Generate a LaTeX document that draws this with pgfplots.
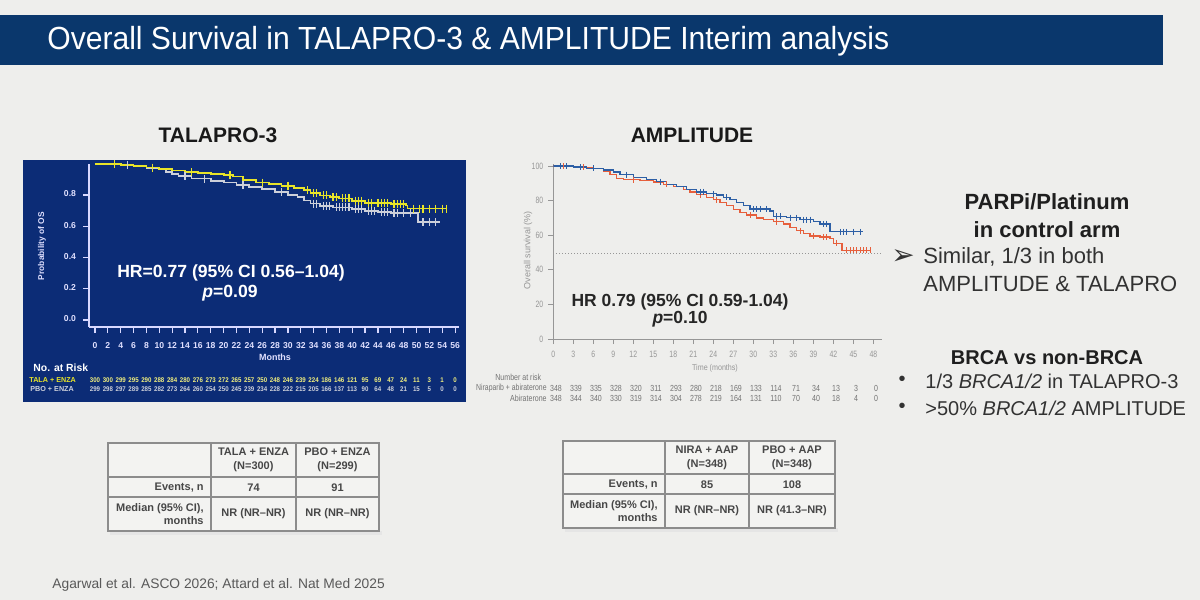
\documentclass[border=0pt]{standalone}
\usepackage{pgfplots}
\pgfplotsset{compat=1.18}
\usepackage{fontspec}
\setmainfont{Liberation Sans}
\newfontfamily\dejavu{DejaVu Sans}
\definecolor{bg}{RGB}{238,238,236}
\definecolor{titlebar}{RGB}{10,55,108}
\definecolor{panel}{RGB}{12,44,118}
\definecolor{talayel}{RGB}{232,228,40}
\definecolor{pbogray}{RGB}{205,208,218}
\definecolor{nirablue}{RGB}{45,95,165}
\definecolor{abired}{RGB}{230,95,60}
\definecolor{txt}{RGB}{50,50,50}
\definecolor{axgray}{RGB}{150,150,150}
\definecolor{tblline}{RGB}{140,140,140}
\definecolor{tblfill}{RGB}{243,243,241}
\begin{document}
\begin{tikzpicture}
\begin{scope}[x=0.5pt,y=-0.5pt]
\fill[bg] (0,0) rectangle (1200,600);
\useasboundingbox (0,0) rectangle (1200,600);
% title bar
\fill[titlebar] (0,15) rectangle (1163,65);
\node[anchor=west, text=white, font=\fontsize{16}{16}\selectfont, inner sep=0] at (47,41) {\scalebox{0.94}[1]{Overall Survival in TALAPRO-3 \& AMPLITUDE Interim analysis}};
% panel titles
\node[font=\fontsize{10.5}{12}\selectfont\bfseries, text=black!90] at (218,135) {TALAPRO-3};
\node[font=\fontsize{10.5}{12}\selectfont\bfseries, text=black!90] at (692,135) {AMPLITUDE};
% TALAPRO panel
\fill[panel] (23,160) rectangle (466,402);
\node[rotate=90, font=\fontsize{4.2}{5}\selectfont\bfseries, text=white!88!blue] at (42,246) {Probability of OS};
\node[font=\fontsize{4.5}{5}\selectfont\bfseries, text=white!88!blue] at (275,357) {Months};
\node[anchor=west, font=\fontsize{5.2}{6}\selectfont\bfseries, text=white, inner sep=0] at (33,368) {No. at Risk};
\node[anchor=west, font=\fontsize{3.6}{4}\selectfont\bfseries, text=talayel, inner sep=0] at (29,380) {TALA + ENZA};
\node[anchor=west, font=\fontsize{3.6}{4}\selectfont\bfseries, text=pbogray, inner sep=0] at (30,389) {PBO + ENZA};
\foreach \n [count=\i from 0] in {300,300,299,295,290,288,284,280,276,273,272,265,257,250,248,246,239,224,186,146,121,95,69,47,24,11,3,1,0}
  \node[font=\fontsize{3.4}{4}\selectfont\bfseries, text=talayel!60!white, inner sep=0] at ({95+12.857*\i},380) {\scalebox{0.9}[1]{\n}};
\foreach \n [count=\i from 0] in {299,298,297,289,285,282,273,264,260,254,250,245,239,234,228,222,215,205,166,137,113,90,64,48,21,15,5,0,0}
  \node[font=\fontsize{3.4}{4}\selectfont\bfseries, text=pbogray, inner sep=0] at ({95+12.857*\i},389) {\scalebox{0.9}[1]{\n}};
% AMPLITUDE labels
\node[rotate=90, font=\fontsize{4.5}{5}\selectfont, text=axgray] at (528,250) {Overall survival (\%)};
\node[font=\fontsize{4.2}{5}\selectfont, text=axgray] at (715,368) {\scalebox{0.85}[1]{Time (months)}};
\node[anchor=west, font=\fontsize{4.4}{5}\selectfont, text=black!55, inner sep=0] at (495,377) {\scalebox{0.8}[1]{Number at risk}};
\node[anchor=east, font=\fontsize{4.4}{5}\selectfont, text=black!55, inner sep=0] at (547,388) {\scalebox{0.78}[1]{Niraparib + abiraterone}};
\node[anchor=east, font=\fontsize{4.4}{5}\selectfont, text=black!55, inner sep=0] at (547,398) {\scalebox{0.8}[1]{Abiraterone}};
\foreach \n [count=\i from 0] in {348,339,335,328,320,311,293,280,218,169,133,114,71,34,13,3,0}
  \node[font=\fontsize{4.4}{5}\selectfont, text=black!55, inner sep=0] at ({556+20*\i},388) {\scalebox{0.8}[1]{\n}};
\foreach \n [count=\i from 0] in {348,344,340,330,319,314,304,278,219,164,131,110,70,40,18,4,0}
  \node[font=\fontsize{4.4}{5}\selectfont, text=black!55, inner sep=0] at ({556+20*\i},398) {\scalebox{0.8}[1]{\n}};
% tables
\fill[black!10] (110,531) rectangle (382,535);
\fill[tblfill] (108,443) rectangle (379,531);
\draw[tblline, line width=0.75pt] (108,443) rectangle (379,531) (211,443)--(211,531) (296,443)--(296,531) (108,477)--(379,477) (108,497)--(379,497);
\begin{scope}[every node/.style={font=\fontsize{5.5}{6.8}\selectfont\bfseries, text=black!72, inner sep=0, align=center}]
\node at (253.5,460) {TALA + ENZA\\(N=300)};
\node at (337.5,460) {PBO + ENZA\\(N=299)};
\node[anchor=east] at (204,488) {Events, n};
\node at (253.5,488) {74};
\node at (337.5,488) {91};
\node[anchor=east, align=right] at (204,514) {Median (95\% CI),\\months};
\node at (253.5,514) {NR (NR–NR)};
\node at (337.5,514) {NR (NR–NR)};
\end{scope}
\fill[black!10] (565,528) rectangle (838,532);
\fill[tblfill] (563,441) rectangle (835,528);
\draw[tblline, line width=0.75pt] (563,441) rectangle (835,528) (665,441)--(665,528) (749,441)--(749,528) (563,474)--(835,474) (563,494)--(835,494);
\begin{scope}[every node/.style={font=\fontsize{5.5}{6.8}\selectfont\bfseries, text=black!72, inner sep=0, align=center}]
\node at (707,458) {NIRA + AAP\\(N=348)};
\node at (792,458) {PBO + AAP\\(N=348)};
\node[anchor=east] at (658,485) {Events, n};
\node at (707,485) {85};
\node at (792,485) {108};
\node[anchor=east, align=right] at (658,511) {Median (95\% CI),\\months};
\node at (707,511) {NR (NR–NR)};
\node at (792,511) {NR (41.3–NR)};
\end{scope}
% right text
\node[font=\fontsize{11}{13}\selectfont\bfseries, text=black!88] at (1047,202) {PARPi/Platinum};
\node[font=\fontsize{11}{13}\selectfont\bfseries, text=black!88] at (1047,230) {in control arm};
\node[font=\fontsize{14}{16}\selectfont\dejavu, text=black!80] at (903,257) {➢};
\node[anchor=west, inner sep=0, font=\fontsize{11}{13}\selectfont, text=txt] at (923,257) {Similar, 1/3 in both};
\node[anchor=west, inner sep=0, font=\fontsize{11}{13}\selectfont, text=txt] at (923,284) {AMPLITUDE \& TALAPRO};
\node[font=\fontsize{10}{12}\selectfont\bfseries, text=black!88] at (1047,358) {BRCA vs non-BRCA};
\node[font=\fontsize{10}{12}\selectfont, text=txt] at (902,381) {•};
\node[anchor=west, inner sep=0, font=\fontsize{10}{12}\selectfont, text=txt] at (925,381) {1/3 \textit{BRCA1/2} in TALAPRO-3};
\node[font=\fontsize{10}{12}\selectfont, text=txt] at (902,408) {•};
\node[anchor=west, inner sep=0, font=\fontsize{10}{12}\selectfont, text=txt] at (925,408) {>50\% \textit{BRCA1/2} AMPLITUDE};
% footer
\node[anchor=west, inner sep=0, font=\fontsize{6.9}{8}\selectfont, text=black!65] at (52,585) {Agarwal et al. ASCO 2026; Attard et al. Nat Med 2025};
\end{scope}

% ---------------- TALAPRO-3 KM ----------------
\begin{axis}[
  at={(44.5pt,-163.5pt)}, anchor=south west, scale only axis,
  width=185pt, height=81.625pt,
  xmin=-0.93, xmax=56.6, ymin=-0.045, ymax=1.0,
  axis lines*=left, axis line style={-, white!85!blue, line width=0.6pt},
  xtick={0,2,...,56}, ytick={0,0.2,0.4,0.6,0.8},
  tick style={white!85!blue, line width=0.6pt}, major tick length=3pt, tick align=outside,
  tick label style={font=\fontsize{4.3}{5}\selectfont\bfseries, text=white!88!blue},
  typeset ticklabels with strut,
  /pgf/number format/assume math mode=true,
  yticklabel style={/pgf/number format/.cd, fixed, fixed zerofill, precision=1},
  xticklabel style={anchor=north, yshift=-0.5pt},
]
\addplot[const plot, pbogray, line width=0.9pt] coordinates {
(0,1.0) (2,0.996) (4,0.990) (6,0.984) (8,0.975) (10,0.963) (11,0.948) (12,0.933) (13,0.920) (15,0.905) (18,0.892) (20,0.880) (22,0.866) (24,0.850) (26,0.836) (28,0.820) (30,0.802) (31.5,0.785) (32.5,0.765) (33.5,0.745) (35,0.730) (37,0.720) (40,0.712) (42,0.697) (44,0.690) (46,0.683) (50.2,0.627) (53.7,0.627)};
\addplot[only marks, mark=|, mark size=2pt, pbogray, mark options={line width=0.6pt}] coordinates {
(5,0.990) (14,0.920) (17,0.905) (23,0.866) (29,0.820) (34,0.745) (34.5,0.745) (35.5,0.730) (36,0.730) (36.5,0.730) (37.5,0.720) (38,0.720) (38.5,0.720) (39,0.720) (39.5,0.720) (40.5,0.712) (41,0.712) (41.5,0.712) (42.5,0.697) (43,0.697) (43.5,0.697) (44.5,0.690) (45,0.690) (45.5,0.690) (46.5,0.683) (47,0.683) (48,0.683) (49,0.683) (51,0.627) (52,0.627) (53,0.627)};
\addplot[const plot, talayel, line width=0.9pt] coordinates {
(0,1.0) (2,0.997) (4,0.993) (6,0.985) (8,0.976) (10,0.968) (12,0.957) (14,0.947) (16,0.940) (18,0.934) (20,0.929) (21.5,0.918) (23,0.897) (25,0.880) (27,0.870) (29,0.860) (31,0.847) (32.5,0.830) (33.5,0.812) (35,0.797) (36.5,0.787) (38,0.778) (40,0.764) (42,0.750) (46,0.743) (48.3,0.733) (48.6,0.713) (54.7,0.713)};
\addplot[only marks, mark=|, mark size=2pt, talayel, mark options={line width=0.6pt}] coordinates {
(3,0.997) (9,0.976) (15,0.947) (21,0.929) (26,0.880) (30,0.860) (33,0.830) (34,0.812) (34.5,0.812) (35.5,0.797) (36,0.797) (37,0.787) (37.5,0.787) (38.5,0.778) (39,0.778) (39.5,0.778) (40.5,0.764) (41,0.764) (41.5,0.764) (42.5,0.750) (43,0.750) (44,0.750) (44.5,0.750) (45,0.750) (45.5,0.750) (46.5,0.743) (47,0.743) (47.5,0.743) (48,0.743) (49.5,0.713) (50.5,0.713) (51,0.713) (52,0.713) (53,0.713) (54,0.713) (54.7,0.713)};
\end{axis}

% ---------------- AMPLITUDE KM ----------------
\begin{axis}[
  at={(276.65pt,-169.5pt)}, anchor=south west, scale only axis,
  width=164.35pt, height=87.35pt,
  xmin=0, xmax=49.3, ymin=0, ymax=101,
  axis lines*=left, axis line style={-, axgray, line width=0.4pt},
  xtick={0,3,...,48}, ytick={0,20,...,100},
  tick style={axgray, line width=0.4pt}, major tick length=2.5pt, tick align=outside,
  tick label style={font=\fontsize{4.6}{5}\selectfont, text=axgray},
  typeset ticklabels with strut,
  /pgf/number format/assume math mode=true,
  xticklabel={\scalebox{0.75}[1]{\pgfmathprintnumber{\tick}}},
  yticklabel={\scalebox{0.75}[1]{\pgfmathprintnumber{\tick}}},
  yticklabel style={xshift=1pt},
]
\addplot[densely dotted, axgray, line width=0.5pt] coordinates {(0,49.5) (49.3,49.5)};
\addplot[const plot, abired, line width=0.6pt] coordinates {
(0,100) (3,99.2) (6,98.5) (7.5,97.0) (8.5,95.0) (9.5,93.0) (10.5,92.2) (13,91.5) (15,90.8) (16.5,89.5) (18,88.2) (19.5,86.5) (20.5,85.0) (21.5,83.5) (23,82.0) (24,80.5) (25,79.0) (26,77.0) (27,75.0) (28,73.0) (29,71.7) (30.5,70.0) (31.5,69.0) (33,67.8) (34.5,66.5) (35.5,64.5) (36.5,62.5) (37.5,61.0) (38.5,59.5) (40,59.0) (41.5,58.2) (42,55.3) (43.3,51.2) (47.5,51.2)};
\addplot[only marks, mark=|, mark size=1.5pt, abired, mark options={line width=0.4pt}] coordinates {
(1.5,100) (4.5,99.2) (12,92.2) (17,89.5) (22,83.5) (24.5,80.5) (29.5,71.7) (33.5,67.8) (37,62.5) (39,59.5) (40.5,59.0) (41,59.0) (42.5,55.3) (44,51.2) (44.5,51.2) (45,51.2) (45.5,51.2) (46,51.2) (46.5,51.2) (47,51.2) (47.5,51.2)};
\addplot[const plot, nirablue, line width=0.6pt] coordinates {
(0,100) (3,99.4) (5,98.6) (7.5,97.7) (9,96.5) (10,95.0) (12,93.5) (14,92.0) (15.5,91.0) (17,89.5) (18.5,88.0) (20,86.5) (21.5,85.0) (23,84.0) (24.5,83.2) (25.5,82.0) (26.5,80.5) (27.5,79.0) (28.5,77.0) (29.5,75.2) (32.5,74.0) (33,71.0) (35,70.2) (37,69.0) (39,68.0) (40,66.5) (41.5,62.0) (46.5,62.0)};
\addplot[only marks, mark=|, mark size=1.5pt, nirablue, mark options={line width=0.4pt}] coordinates {
(1,100) (2,100) (4,99.4) (6,98.6) (11,95.0) (16,91.0) (22,85.0) (22.5,85.0) (24,84.0) (26,82.0) (30,75.2) (30.5,75.2) (31,75.2) (32,75.2) (33.5,71.0) (34,71.0) (35.5,70.2) (36.5,70.2) (37.5,69.0) (38,69.0) (38.5,69.0) (40.5,66.5) (41,66.5) (43,62.0) (43.5,62.0) (44,62.0) (45,62.0) (46,62.0)};
\end{axis}

% overlay HR texts
\begin{scope}[x=0.5pt,y=-0.5pt]
\node[font=\fontsize{8.8}{10}\selectfont\bfseries, text=white] at (231,273) {HR=0.77 (95\% CI 0.56–1.04)};
\node[font=\fontsize{8.8}{10}\selectfont\bfseries, text=white] at (230,293) {\textit{p}=0.09};
\node[font=\fontsize{8.75}{10}\selectfont\bfseries, text=black!85] at (680,302) {HR 0.79 (95\% CI 0.59-1.04)};
\node[font=\fontsize{8.75}{10}\selectfont\bfseries, text=black!85] at (680,319) {\textit{p}=0.10};
\end{scope}
\end{tikzpicture}
\end{document}
